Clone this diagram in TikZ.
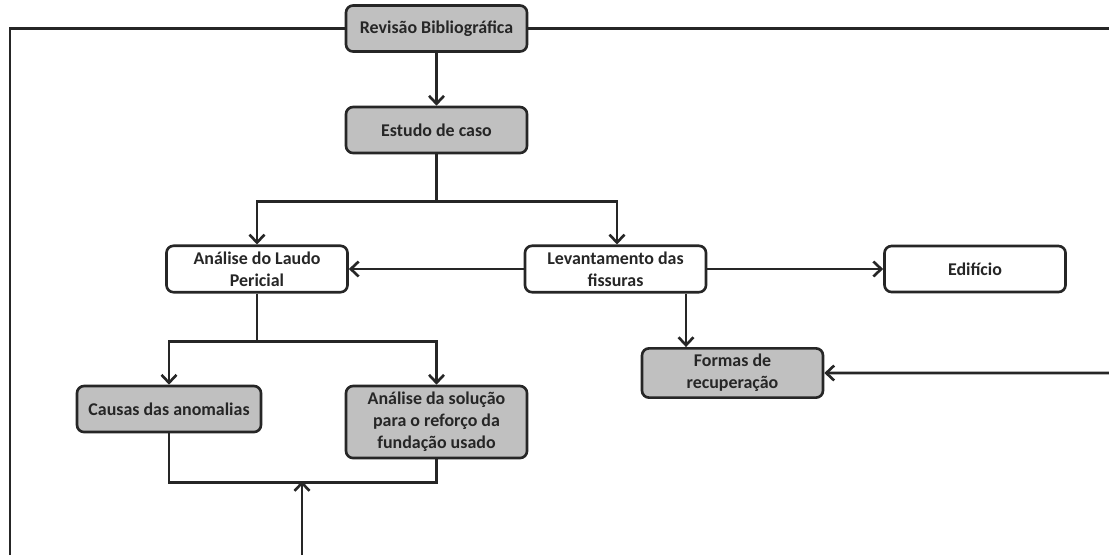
\documentclass[tikz,border=0pt]{standalone}
\usepackage{fontspec}
\setmainfont{Carlito}
\usepackage{tikz}
\usetikzlibrary{arrows.meta}
\usetikzlibrary{positioning}

\definecolor{ink}{HTML}{262626}
\definecolor{boxgray}{HTML}{C0C0C0}

\begin{document}
\begin{tikzpicture}[node distance=2.03cm, auto,
    >={Straight Barb[length=4.5pt,width=8.5pt]},
    box/.style={rectangle, draw=ink, line width=1.5pt, rounded corners=4pt, fill=white, text=ink,
        minimum width=3.62cm, minimum height=0.92cm, align=center,
        font=\bfseries\fontsize{10.2}{12.5}\selectfont},
    shaded/.style={box, fill=boxgray},
    link/.style={draw=ink, line width=1.5pt}]
    \useasboundingbox (0,0) rectangle (22.18,-11.1);

    % Main line
    \node [shaded] (rev) at (8.73,-0.57) {Revisão Bibliográfica};
    \node [shaded, below of=rev] (estudo) {Estudo de caso};

    % Second level
    \node [box, below of=estudo, xshift=-3.59cm, yshift=-0.75cm] (laudo) {Análise do Laudo\\Pericial};
    \node [box, right of=laudo, xshift=5.14cm] (levant) {Levantamento das\\fissuras};
    \node [box, right of=levant, xshift=5.16cm] (edif) {Edifício};
    \node [shaded, below of=levant, xshift=2.34cm, yshift=-0.05cm] (formas) {Formas de\\recuperação};

    % Third level
    \node [shaded, below of=laudo, xshift=-1.76cm, yshift=-0.77cm, minimum width=3.68cm] (causas) {Causas das anomalias};
    \node [shaded, below of=laudo, xshift=3.59cm, yshift=-1.03cm, minimum height=1.44cm] (solucao) {Análise da solução\\para o reforço da\\fundação usado};

    % Edge points
    \coordinate (ledge) at (0.2,-11.1);
    \coordinate (redge) at (22.18,-0.57);
    \coordinate (fedge) at (22.18,-7.46);
    \coordinate (bedge) at (6.04,-11.1);
    \coordinate (merge) at (6.04,-9.62);
    \coordinate (levdrop) at ([xshift=1.41cm]levant.south);

    % Arrows
    \draw [link] (ledge) |- (rev.west);
    \draw [link] (rev.east) -- (redge);
    \draw [link, ->] (rev) -- (estudo);

    \draw [link, ->] (estudo.south) -- ++(0,-0.94) -| (laudo.north);
    \draw [link, ->] (estudo.south) -- ++(0,-0.94) -| ([xshift=0.03cm]levant.north);

    \draw [link, ->] (levant) -- (laudo);
    \draw [link, ->] (levant) -- (edif);
    \draw [link, ->] (levdrop) -- (levdrop |- formas.north);
    \draw [link, ->] (fedge) -- (formas.east);

    \draw [link, ->] (laudo.south) -- ++(0,-0.96) -| (causas.north);
    \draw [link, ->] (laudo.south) -- ++(0,-0.96) -| (solucao.north);

    \draw [link] (causas.south) -- ++(0,-0.98) -| (solucao.south);
    \draw [link, ->] (bedge) -- (merge);

\end{tikzpicture}
\end{document}
